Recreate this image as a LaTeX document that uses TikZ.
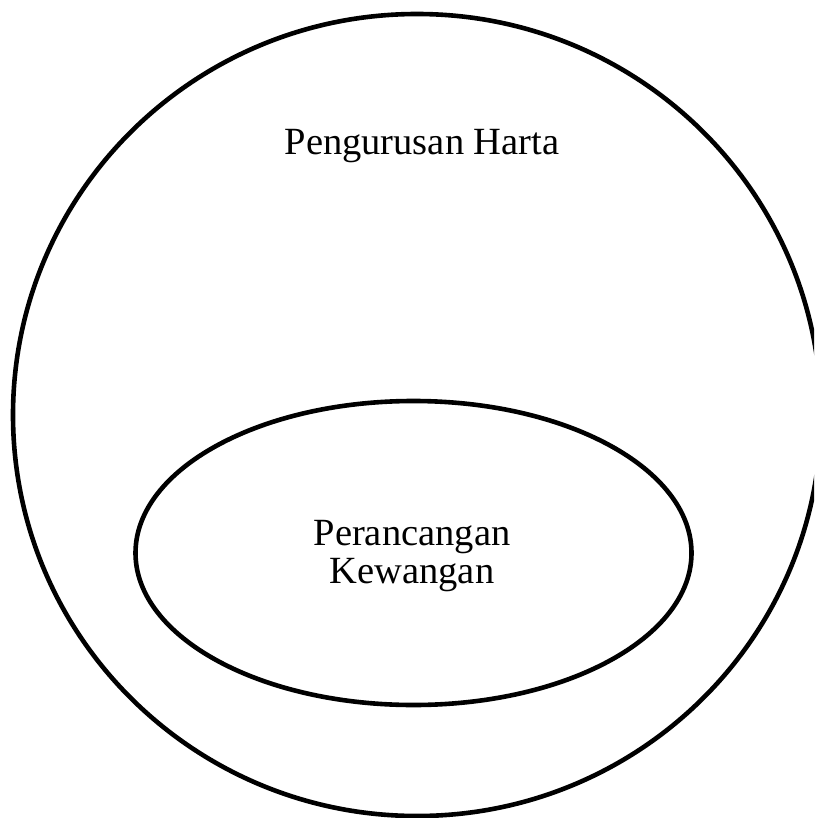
\documentclass[tikz,border=0pt]{standalone}
\usepackage{fontspec}
\setmainfont{Liberation Serif}
\usetikzlibrary{shapes.geometric}
\begin{document}
\begin{tikzpicture}[x=1pt,y=-1pt,
  ring/.style={draw=black,line width=4.6pt},
  lbl/.style={font=\fontsize{38.5}{37.5}\selectfont,inner sep=0pt,align=center}]
\useasboundingbox (0,0) rectangle (814,818);
\begin{scope}
\clip (0,0) rectangle (814,818);
\node[ring,ellipse,minimum width=808pt,minimum height=802pt,inner sep=0pt] (outer) at (417,415) {};
\end{scope}
\node[ring,ellipse,minimum width=556pt,minimum height=304pt,inner sep=0pt] (inner) at (413.5,553) {};
\node[lbl,anchor=base] (t1) at (422,155) {Pengurusan Harta};
\node[lbl] (t2) at (412,556) {Perancangan\\Kewangan};
\end{tikzpicture}
\end{document}
